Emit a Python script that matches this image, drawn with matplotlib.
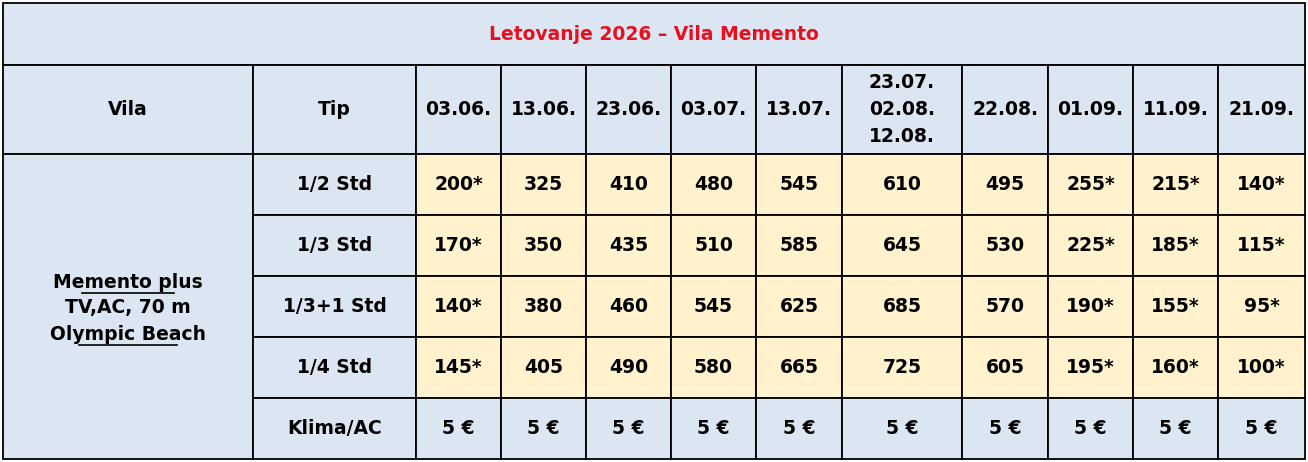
import matplotlib.pyplot as plt
from matplotlib.patches import Rectangle

title = "Letovanje 2026 – Vila Memento"
dates = ["03.06.", "13.06.", "23.06.", "03.07.", "13.07.", "23.07.\n02.08.\n12.08.",
         "22.08.", "01.09.", "11.09.", "21.09."]
room_types = ["1/2 Std", "1/3 Std", "1/3+1 Std", "1/4 Std"]
prices = [
    ["200*", "325", "410", "480", "545", "610", "495", "255*", "215*", "140*"],
    ["170*", "350", "435", "510", "585", "645", "530", "225*", "185*", "115*"],
    ["140*", "380", "460", "545", "625", "685", "570", "190*", "155*", "95*"],
    ["145*", "405", "490", "580", "665", "725", "605", "195*", "160*", "100*"],
]
extra_label = "Klima/AC"
extra = ["5 €"] * 10
villa = ["Memento plus", "TV,AC, 70 m", "Olympic Beach"]

W, H = 1308, 462
BLUE = "#dce6f2"
YELLOW = "#fff2cc"
FONT = ["Liberation Sans Narrow", "DejaVu Sans Condensed", "DejaVu Sans"]

cols = [3, 253, 416, 501, 586, 671, 756, 842, 962, 1048, 1133, 1218, 1305]
rows = [3, 65, 154, 215, 276, 337, 398, 459]

fig = plt.figure(figsize=(W / 100, H / 100), dpi=100)
ax = fig.add_axes([0, 0, 1, 1])
ax.set_xlim(0, W)
ax.set_ylim(H, 0)
ax.axis("off")


def cell(x0, x1, y0, y1, bg, text="", **kw):
    ax.add_patch(Rectangle((x0, y0), x1 - x0, y1 - y0, facecolor=bg,
                           edgecolor="black", linewidth=1.3))
    if text:
        ax.text((x0 + x1) / 2, (y0 + y1) / 2, text, ha="center", va="center",
                family=FONT, fontweight="bold", fontsize=kw.pop("fontsize", 13.5),
                linespacing=1.5, **kw)


cell(cols[0], cols[-1], rows[0], rows[1], BLUE, title, color="#e8101e")
cell(cols[0], cols[1], rows[1], rows[2], BLUE, "Vila")
cell(cols[1], cols[2], rows[1], rows[2], BLUE, "Tip")
for j, d in enumerate(dates):
    cell(cols[j + 2], cols[j + 3], rows[1], rows[2], BLUE, d)

cell(cols[0], cols[1], rows[2], rows[-1], BLUE)
vx = (cols[0] + cols[1]) / 2
for k, line in enumerate(villa):
    y = 282 + k * 26
    ax.text(vx, y, line, ha="center", va="center", family=FONT,
            fontweight="bold", fontsize=13.5)
    if k != 1:
        w = 7.6 * len(line)
        ax.plot([vx - w / 2, vx + w / 2], [y + 11, y + 11], color="black", lw=1.2)

for i, rt in enumerate(room_types):
    cell(cols[1], cols[2], rows[i + 2], rows[i + 3], BLUE, rt)
    for j, p in enumerate(prices[i]):
        cell(cols[j + 2], cols[j + 3], rows[i + 2], rows[i + 3], YELLOW, p)

cell(cols[1], cols[2], rows[6], rows[7], BLUE, extra_label)
for j, e in enumerate(extra):
    cell(cols[j + 2], cols[j + 3], rows[6], rows[7], BLUE, e)

fig.savefig("out.png", dpi=100)
